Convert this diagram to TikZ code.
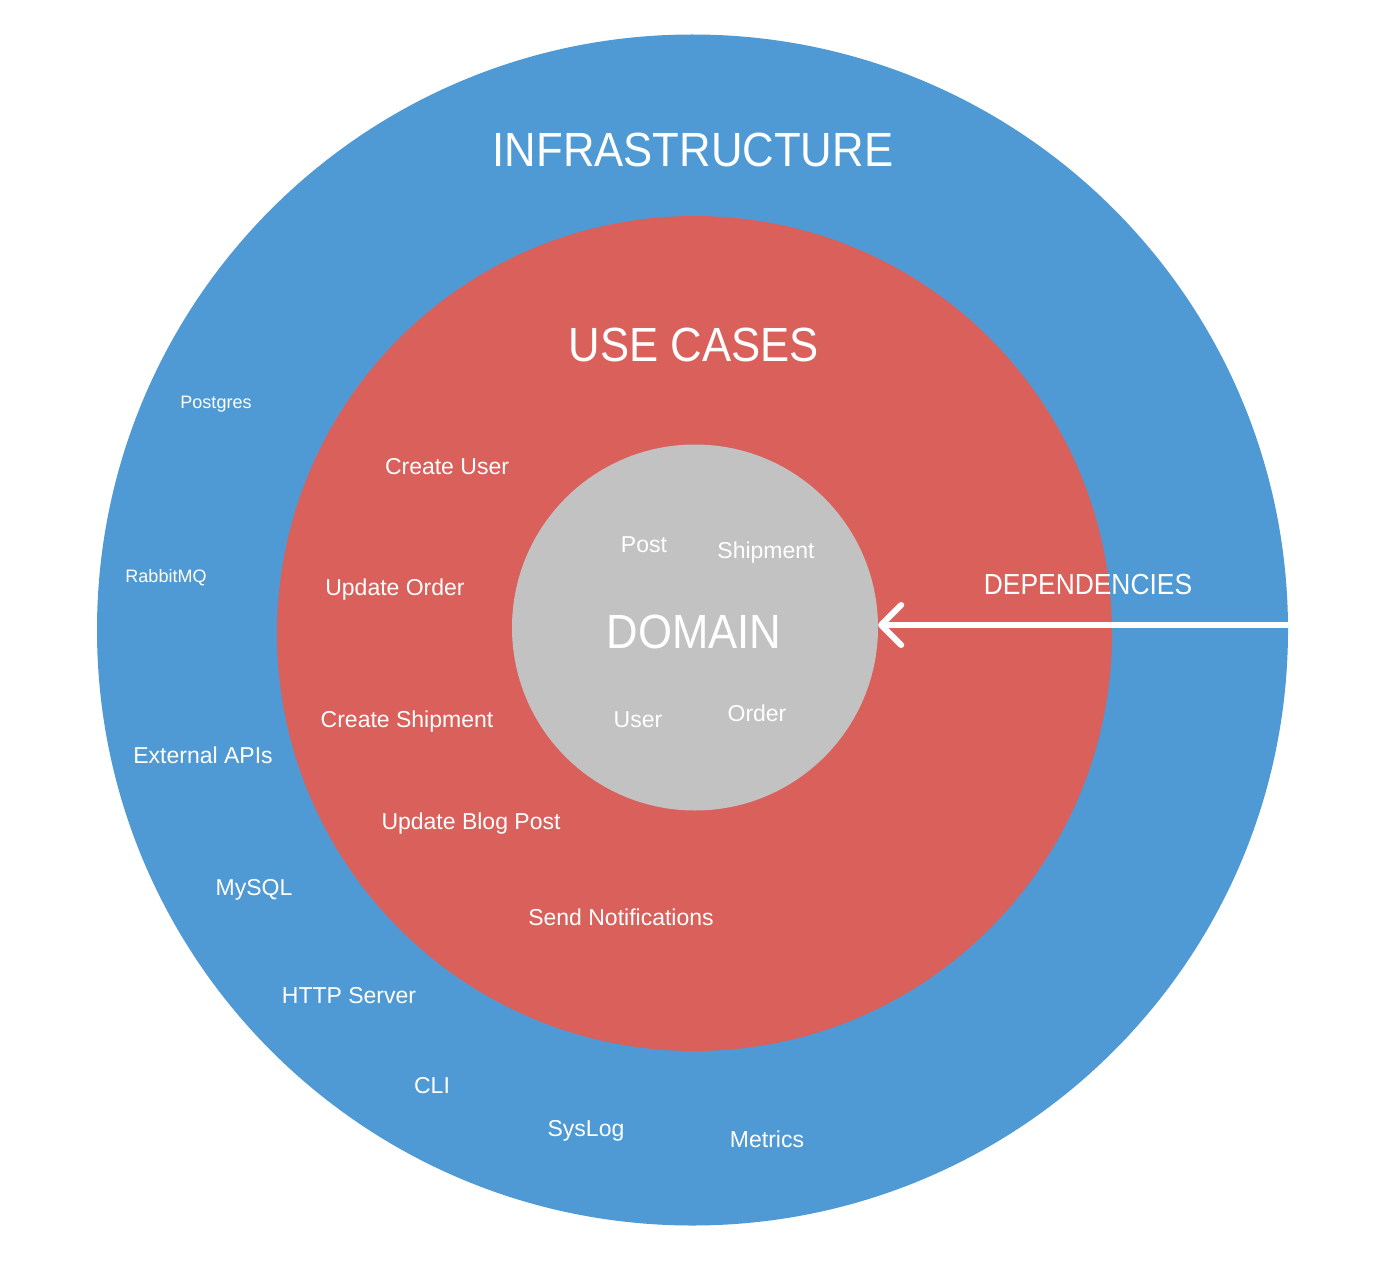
\documentclass[tikz,border=0pt]{standalone}
\usepackage{fontspec}
\setmainfont{Liberation Sans}
\newfontfamily\capsfont[FakeStretch=0.91]{Liberation Sans}
\usetikzlibrary{arrows.meta}
\definecolor{infrablue}{RGB}{79,154,212}
\definecolor{usered}{RGB}{217,96,91}
\definecolor{domgray}{RGB}{194,194,194}
\begin{document}
\begin{tikzpicture}[x=1pt,y=-1pt,
  ring/.style={circle,inner sep=0pt,draw=none},
  lbl/.style={text=white,anchor=base,inner sep=0pt,font=\fontsize{23}{26}\selectfont},
  smalllbl/.style={lbl,font=\fontsize{18}{20}\selectfont},
  biglbl/.style={lbl,font=\capsfont\fontsize{48}{52}\selectfont},
  midlbl/.style={lbl,font=\capsfont\fontsize{29}{32}\selectfont},
  deparrow/.style={draw=white,line width=6pt,-{Straight Barb[length=20pt,width=40pt,round]}}
]
\fill[white] (0,0) rectangle (1400,1268);
\useasboundingbox (0,0) rectangle (1400,1268);
% rings
\node[ring,fill=infrablue,minimum size=1191pt] (infra) at (692.5,630) {};
\node[ring,fill=usered,minimum size=835pt] (usecases) at (694.5,633.5) {};
\node[ring,fill=domgray,minimum size=366pt] (domain) at (695,627.5) {};
% titles
\node[biglbl] (tinfra) at (693,167) {INFRASTRUCTURE};
\node[biglbl] (tuse) at (694,361) {USE CASES};
\node[biglbl] (tdom) at (694,648) {DOMAIN};
\node[midlbl] (tdep) at (1088,594) {DEPENDENCIES};
% domain entities
\node[lbl] (post) at (644,552) {Post};
\node[lbl] (ship) at (766,558) {Shipment};
\node[lbl] (user) at (638,727) {User};
\node[lbl] (order) at (757,721) {Order};
% use cases
\node[lbl] (cuser) at (447,474) {Create User};
\node[lbl] (uorder) at (395,595) {Update Order};
\node[lbl] (cship) at (407,727) {Create Shipment};
\node[lbl] (ublog) at (471,829) {Update Blog Post};
\node[lbl] (snotif) at (621,925) {Send Notifications};
% infrastructure
\node[smalllbl] (pg) at (216,408) {Postgres};
\node[smalllbl] (rmq) at (166,582) {RabbitMQ};
\node[lbl] (ext) at (203,763) {External APIs};
\node[lbl] (mysql) at (254,895) {MySQL};
\node[lbl] (http) at (349,1003) {HTTP Server};
\node[lbl] (cli) at (432,1093) {CLI};
\node[lbl] (syslog) at (586,1136) {SysLog};
\node[lbl] (metrics) at (767,1147) {Metrics};
% dependency arrow
\coordinate (depstart) at (1288,625);
\draw[deparrow] (depstart) -- (depstart -| domain.east);
\end{tikzpicture}
\end{document}
